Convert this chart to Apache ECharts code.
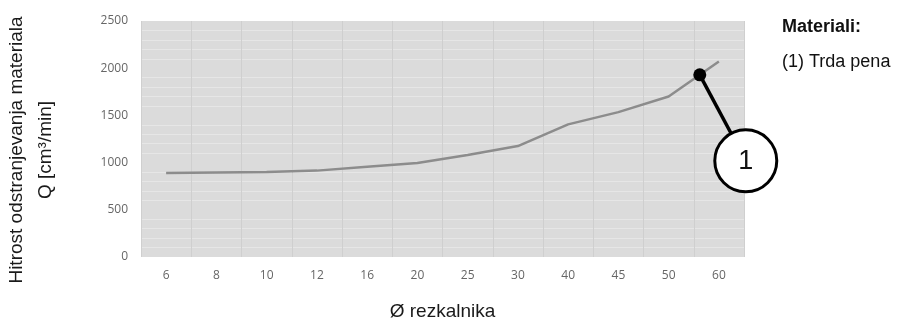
<!DOCTYPE html>
<html>
<head>
<meta charset="utf-8">
<script src="https://cdn.jsdelivr.net/npm/echarts@6/dist/echarts.min.js"></script>
<style>
html,body{margin:0;padding:0;background:#fff;}
#c{width:902px;height:323px;}
</style>
</head>
<body>
<div id="c"></div>
<script>
const categories = ['6','8','10','12','16','20','25','30','40','45','50','60'];
const removalRate = [890, 895, 900, 915, 955, 995, 1080, 1175, 1405, 1535, 1700, 2070];
const yTicks = [0, 500, 1000, 1500, 2000, 2500];
const yTitleLines = ['Hitrost odstranjevanja materiala', 'Q [cm³/min]'];
const xTitle = 'Ø rezkalnika';
const calloutLabel = '1';
const calloutFraction = 0.62; // position of the marker between '50' and '60'
const legendTitle = 'Materiali:';
const legendItems = ['(1) Trda pena'];

const chart = echarts.init(document.getElementById('c'), null, {renderer: 'canvas'});

const option = {
  animation: false,
  backgroundColor: '#ffffff',
  grid: {left: 141, right: 158, top: 21, bottom: 66, show: true, backgroundColor: '#dbdbdb', borderWidth: 0, containLabel: false, outerBoundsMode: 'none'},
  xAxis: {
    type: 'category',
    data: categories,
    boundaryGap: true,
    axisLine: {show: false},
    axisTick: {show: false},
    axisLabel: {color: '#666666', fontSize: 12, margin: 13, fontFamily: 'Open Sans'},
    splitLine: {show: true, lineStyle: {color: '#cfcfcf', width: 1}},
    name: xTitle,
    nameLocation: 'middle',
    nameGap: 45,
    nameTextStyle: {color: '#1a1a1a', fontSize: 19, fontFamily: 'Liberation Sans'}
  },
  yAxis: {
    type: 'value',
    min: yTicks[0],
    max: yTicks[yTicks.length - 1],
    interval: yTicks[1] - yTicks[0],
    axisLine: {show: false},
    axisTick: {show: false},
    axisLabel: {color: '#666666', fontSize: 12, margin: 13, fontFamily: 'Open Sans', formatter: v => String(v)},
    splitLine: {show: false},
    minorTick: {show: false, splitNumber: 5},
    minorSplitLine: {show: true, lineStyle: {color: '#e6e6e6', width: 1}}
  },
  series: [{
    type: 'line',
    data: removalRate,
    symbol: 'none',
    smooth: false,
    lineStyle: {color: '#8c8c8c', width: 2.5},
    z: 3
  }],
  graphic: []
};
chart.setOption(option);

function drawCallout() {
  const i50 = categories.indexOf('50');
  const i60 = categories.indexOf('60');
  const p1 = chart.convertToPixel({gridIndex: 0}, [i50, removalRate[i50]]);
  const p2 = chart.convertToPixel({gridIndex: 0}, [i60, removalRate[i60]]);
  const mx = p1[0] + (p2[0] - p1[0]) * calloutFraction;
  const my = p1[1] + (p2[1] - p1[1]) * calloutFraction;
  const cx = mx + 46, cy = my + 86, r = 31;
  const dx = cx - mx, dy = cy - my, d = Math.sqrt(dx*dx + dy*dy);
  const ex = cx - dx / d * r, ey = cy - dy / d * r;
  const lx = 782;
  chart.setOption({
    graphic: [
      {type: 'text', x: 17, y: 150, rotation: Math.PI / 2, style: {text: yTitleLines[0], fontSize: 19, fontFamily: 'Liberation Sans', fill: '#1a1a1a', align: 'center', verticalAlign: 'middle'}, z: 12},
      {type: 'text', x: 46, y: 150, rotation: Math.PI / 2, style: {text: yTitleLines[1], fontSize: 19, fontFamily: 'Liberation Sans', fill: '#1a1a1a', align: 'center', verticalAlign: 'middle'}, z: 12},
      {type: 'line', shape: {x1: mx, y1: my, x2: ex, y2: ey}, style: {stroke: '#000', lineWidth: 3.5}, z: 10},
      {type: 'circle', shape: {cx: mx, cy: my, r: 6.5}, style: {fill: '#000'}, z: 11},
      {type: 'circle', shape: {cx: cx, cy: cy, r: r}, style: {fill: '#fff', stroke: '#000', lineWidth: 3}, z: 10},
      {type: 'text', x: cx, y: cy + 1, style: {text: calloutLabel, fontSize: 27, fontFamily: 'Liberation Sans', fill: '#111', align: 'center', verticalAlign: 'middle'}, z: 12},
      {type: 'text', x: lx, y: 27, style: {text: legendTitle, fontSize: 18, fontWeight: 'bold', fontFamily: 'Liberation Sans Narrow, Liberation Sans', fill: '#111', verticalAlign: 'middle'}, z: 12},
      {type: 'text', x: lx, y: 62, style: {text: legendItems[0], fontSize: 18, fontFamily: 'Liberation Sans Narrow, Liberation Sans', fill: '#111', verticalAlign: 'middle'}, z: 12}
    ]
  });
}
drawCallout();
</script>
</body>
</html>
